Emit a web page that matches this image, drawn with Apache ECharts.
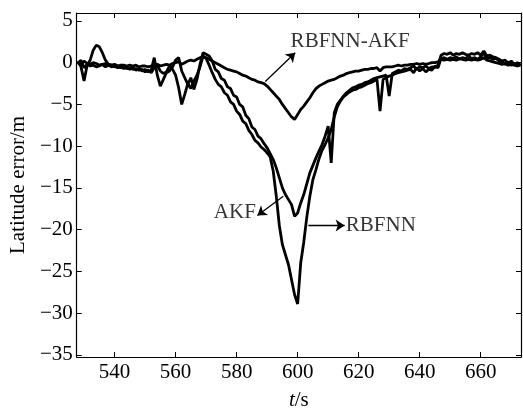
<!DOCTYPE html>
<html>
<head>
<meta charset="utf-8">
<script src="https://cdn.jsdelivr.net/npm/echarts@6/dist/echarts.min.js"></script>
<style>
  html, body { margin: 0; padding: 0; background: #fff; }
  #main { width: 523px; height: 416px; }
</style>
</head>
<body>
<div id="main"></div>
<script>
// sample times (s)
const times = [
  528, 529, 530, 531, 532, 533, 534, 535, 536, 537, 538, 539, 540, 541, 542, 543, 544, 545, 546, 547,
  548, 549, 550, 551, 552, 553, 554, 555, 556, 557, 558, 559, 560, 561, 562, 563, 564, 565, 566, 567,
  568, 569, 570, 571, 572, 573, 574, 575, 576, 577, 578, 579, 580, 581, 582, 583, 584, 585, 586, 587,
  588, 589, 590, 591, 592, 593, 594, 595, 596, 597, 598, 599, 600, 601, 602, 603, 604, 605, 606, 607,
  608, 609, 610, 611, 612, 613, 614, 615, 616, 617, 618, 619, 620, 621, 622, 623, 624, 625, 626, 627,
  628, 629, 630, 631, 632, 633, 634, 635, 636, 637, 638, 639, 640, 641, 642, 643, 644, 645, 646, 647,
  648, 649, 650, 651, 652, 653, 654, 655, 656, 657, 658, 659, 660, 661, 662, 663, 664, 665, 666, 667,
  668, 669, 670, 671, 672, 673
];

// RBFNN latitude error (m)
const rbfnn = [
  0.2, -0.5, -2.2, -0.3, 0.3, 1.5, 2.1, 1.9, 1.2, 0.3, -0.2, -0.3, -0.5, -0.4, -0.6, -0.5, -0.7, -0.6, -0.8, -0.7,
  -0.9, -0.8, -1.1, -0.9, -1.2, -0.6, -0.3, -1.0, -1.3, -1.1, -0.4, -0.8, -1.5, -3.0, -5.0, -3.8, -2.5, -3.1, -2.2, -1.5,
  -0.5, 0.8, 0.5, -0.3, -1.2, -2.0, -2.6, -2.9, -3.6, -3.9, -4.7, -5.0, -5.8, -6.2, -7.0, -7.3, -8.1, -8.6, -9.3, -9.6,
  -10.1, -10.4, -10.8, -11.3, -13.0, -16.0, -19.5, -21.8, -23.0, -24.2, -26.0, -27.8, -28.9, -24.0, -21.5, -18.5, -16.0, -14.0, -12.8, -11.5,
  -10.5, -9.8, -9.0, -8.0, -6.5, -5.3, -4.6, -4.1, -3.8, -3.5, -3.3, -3.2, -3.0, -2.9, -2.7, -2.5, -2.4, -2.2, -2.0, -5.8,
  -2.0, -1.8, -1.6, -1.5, -1.3, -1.2, -1.1, -1.0, -0.9, -0.8, -1.2, -0.6, -1.0, -0.7, -1.1, -0.8, -0.9, -0.4, -0.6, 0.5,
  0.6, 0.4, 0.6, 0.5, 0.7, 0.4, 0.6, 0.5, 0.8, 0.5, 0.6, 0.4, 0.7, 1.2, 0.5, 0.6, 0.4, 0.5, 0.2, 0.0,
  -0.2, 0.1, -0.3, -0.1, -0.4, -0.2
];

// AKF latitude error (m)
const akf = [
  -0.2, 0.3, -0.6, -0.2, -0.4, -0.3, -0.5, -0.4, -0.2, -0.5, -0.3, -0.5, -0.4, -0.6, -0.5, -0.7, -0.6, -0.8, -0.6, -0.9,
  -0.7, -1.0, -0.8, -1.1, -0.9, 0.6, -1.5, -2.8, -2.0, -1.2, -1.0, -0.5, 0.3, 0.6, -1.0, -1.8, -2.6, -1.8, -3.2, -2.0,
  -0.2, 1.2, 1.0, 0.8, 0.2, -0.8, -1.1, -1.9, -2.1, -2.9, -3.1, -3.9, -4.1, -5.0, -5.3, -6.3, -6.7, -7.7, -8.0, -8.8,
  -9.1, -9.7, -10.2, -10.9, -11.6, -12.6, -13.8, -15.0, -15.8, -16.4, -17.0, -18.4, -18.0, -16.8, -15.8, -14.5, -13.2, -12.3, -11.4, -10.6,
  -9.8, -8.8, -7.6, -12.0, -6.0, -5.0, -4.5, -4.0, -3.6, -3.3, -3.0, -2.9, -2.7, -2.6, -2.4, -2.3, -2.1, -1.9, -1.8, -1.7,
  -1.6, -1.5, -4.0, -1.3, -1.1, -0.9, -1.0, -0.7, -0.8, -0.6, -0.4, -0.8, -0.5, -0.6, -0.4, -0.7, -0.5, -0.6, -0.3, 0.9,
  1.1, 1.0, 1.2, 0.9, 1.1, 1.0, 1.2, 1.0, 0.9, 1.1, 1.0, 1.2, 0.9, 1.4, 0.8, 0.9, 0.7, 0.6, 0.4, 0.2,
  0.3, -0.1, 0.2, -0.2, 0.0, -0.3
];

// RBFNN-AKF latitude error (m)
const rbfnnAkf = [
  0.0, -0.3, 0.2, -0.1, -0.2, 0.0, -0.1, -0.3, -0.2, -0.1, -0.2, -0.3, -0.2, -0.4, -0.3, -0.3, -0.4, -0.3, -0.4, -0.3,
  -0.5, -0.4, -0.4, -0.5, -0.4, -0.3, -0.2, -0.4, -0.3, -0.2, -0.3, -0.1, 0.0, 0.1, -0.2, 0.0, 0.2, 0.3, 0.2, 0.4,
  0.6, 0.7, 0.6, 0.4, 0.2, 0.0, -0.2, -0.4, -0.6, -0.8, -0.9, -1.0, -1.1, -1.3, -1.5, -1.6, -1.8, -2.0, -2.1, -2.3,
  -2.4, -2.5, -2.8, -3.2, -3.6, -4.0, -4.4, -5.0, -5.5, -6.0, -6.5, -6.8, -6.2, -5.6, -5.2, -4.7, -4.2, -3.6, -3.1, -2.8,
  -2.6, -2.4, -2.2, -2.1, -2.0, -1.8, -1.6, -1.5, -1.3, -1.2, -1.1, -1.0, -1.0, -0.9, -0.8, -0.8, -0.7, -0.7, -0.6, -1.0,
  -0.6, -0.5, -0.5, -0.5, -0.4, -0.3, -0.4, -0.3, -0.3, -0.2, -0.2, -0.1, -0.2, -0.1, -0.2, -0.1, 0.0, 0.0, 0.1, 0.4,
  0.3, 0.4, 0.3, 0.4, 0.3, 0.5, 0.4, 0.3, 0.4, 0.3, 0.4, 0.3, 0.4, 0.6, 0.3, 0.2, 0.1, 0.0, -0.1, -0.2,
  -0.1, -0.3, -0.2, -0.3, -0.4, -0.3
];

const xTicks = [540, 560, 580, 600, 620, 640, 660];
const yTicks = [-35, -30, -25, -20, -15, -10, -5, 0, 5];

// annotation labels: [t, value, text, align]
const notes = [
  [617.2, 2.5, 'RBFNN-AKF', 'center'],
  [586.3, -17.9, 'AKF', 'right'],
  [615.8, -19.5, 'RBFNN', 'left']
];
// annotation arrows: [from, to]
const arrows = [
  [[589.4, -2.25], [599.2, 1.2]],
  [[595.3, -16.0], [586.8, -18.3]],
  [[603.5, -19.5], [615.4, -19.5]]
];

const FONT = 'Liberation Serif';
const pair = arr => times.map((t, i) => [t, arr[i]]);
const minus = v => String(v).replace('-', '\u2212');

const lineSeries = (name, arr) => ({
  name: name,
  type: 'line',
  data: pair(arr),
  showSymbol: false,
  symbol: 'none',
  lineStyle: { color: '#000', width: 2.8 },
  z: 3
});

const chart = echarts.init(document.getElementById('main'));
chart.setOption({
  animation: false,
  backgroundColor: '#fff',
  textStyle: { fontFamily: FONT },
  grid: { left: 76, right: 2, top: 13, bottom: 56 },
  xAxis: [{
    type: 'value', min: 527.6, max: 673.2, position: 'bottom',
    name: '{i|t}/s', nameLocation: 'middle', nameGap: 33,
    nameTextStyle: {
      fontFamily: FONT, fontSize: 21, color: '#000',
      rich: { i: { fontFamily: FONT, fontSize: 21, fontStyle: 'italic', color: '#000' } }
    },
    axisLine: { onZero: false, lineStyle: { color: '#000', width: 1.2 } },
    axisTick: { inside: true, length: 5, customValues: xTicks, lineStyle: { color: '#000' } },
    axisLabel: { customValues: xTicks, fontFamily: FONT, fontSize: 21, color: '#000', margin: 5 },
    splitLine: { show: false }
  }, {
    type: 'value', min: 527.6, max: 673.2, position: 'top',
    axisLine: { onZero: false, lineStyle: { color: '#000', width: 1.2 } },
    axisTick: { inside: true, length: 5, customValues: xTicks, lineStyle: { color: '#000' } },
    axisLabel: { show: false },
    splitLine: { show: false }
  }],
  yAxis: [{
    type: 'value', min: -35.25, max: 5.95, position: 'left',
    name: 'Latitude error/m', nameLocation: 'middle', nameGap: 45, nameRotate: 90,
    nameTextStyle: { fontFamily: FONT, fontSize: 21, color: '#000' },
    axisLine: { onZero: false, lineStyle: { color: '#000', width: 1.2 } },
    axisTick: { inside: true, length: 5, customValues: yTicks, lineStyle: { color: '#000' } },
    axisLabel: { customValues: yTicks, fontFamily: FONT, fontSize: 21, color: '#000', margin: 4, formatter: minus },
    splitLine: { show: false }
  }, {
    type: 'value', min: -35.25, max: 5.95, position: 'right',
    axisLine: { onZero: false, lineStyle: { color: '#000', width: 1.2 } },
    axisTick: { inside: true, length: 5, customValues: yTicks, lineStyle: { color: '#000' } },
    axisLabel: { show: false },
    splitLine: { show: false }
  }],
  series: [
    lineSeries('RBFNN', rbfnn),
    lineSeries('AKF', akf),
    lineSeries('RBFNN-AKF', rbfnnAkf),
    {
      type: 'lines',
      coordinateSystem: 'cartesian2d',
      symbol: ['none', 'arrow'],
      symbolSize: 9,
      lineStyle: { color: '#000', width: 1.3, opacity: 1 },
      data: arrows.map(a => ({ coords: a })),
      z: 4
    },
    {
      type: 'scatter',
      symbolSize: 0,
      data: notes.map(n => ({
        value: [n[0], n[1]],
        label: { show: true, position: [0, 0], align: n[3], verticalAlign: 'middle', formatter: n[2] }
      })),
      label: { fontFamily: FONT, fontSize: 21, color: '#000' },
      z: 5
    }
  ]
});
</script>
</body>
</html>
